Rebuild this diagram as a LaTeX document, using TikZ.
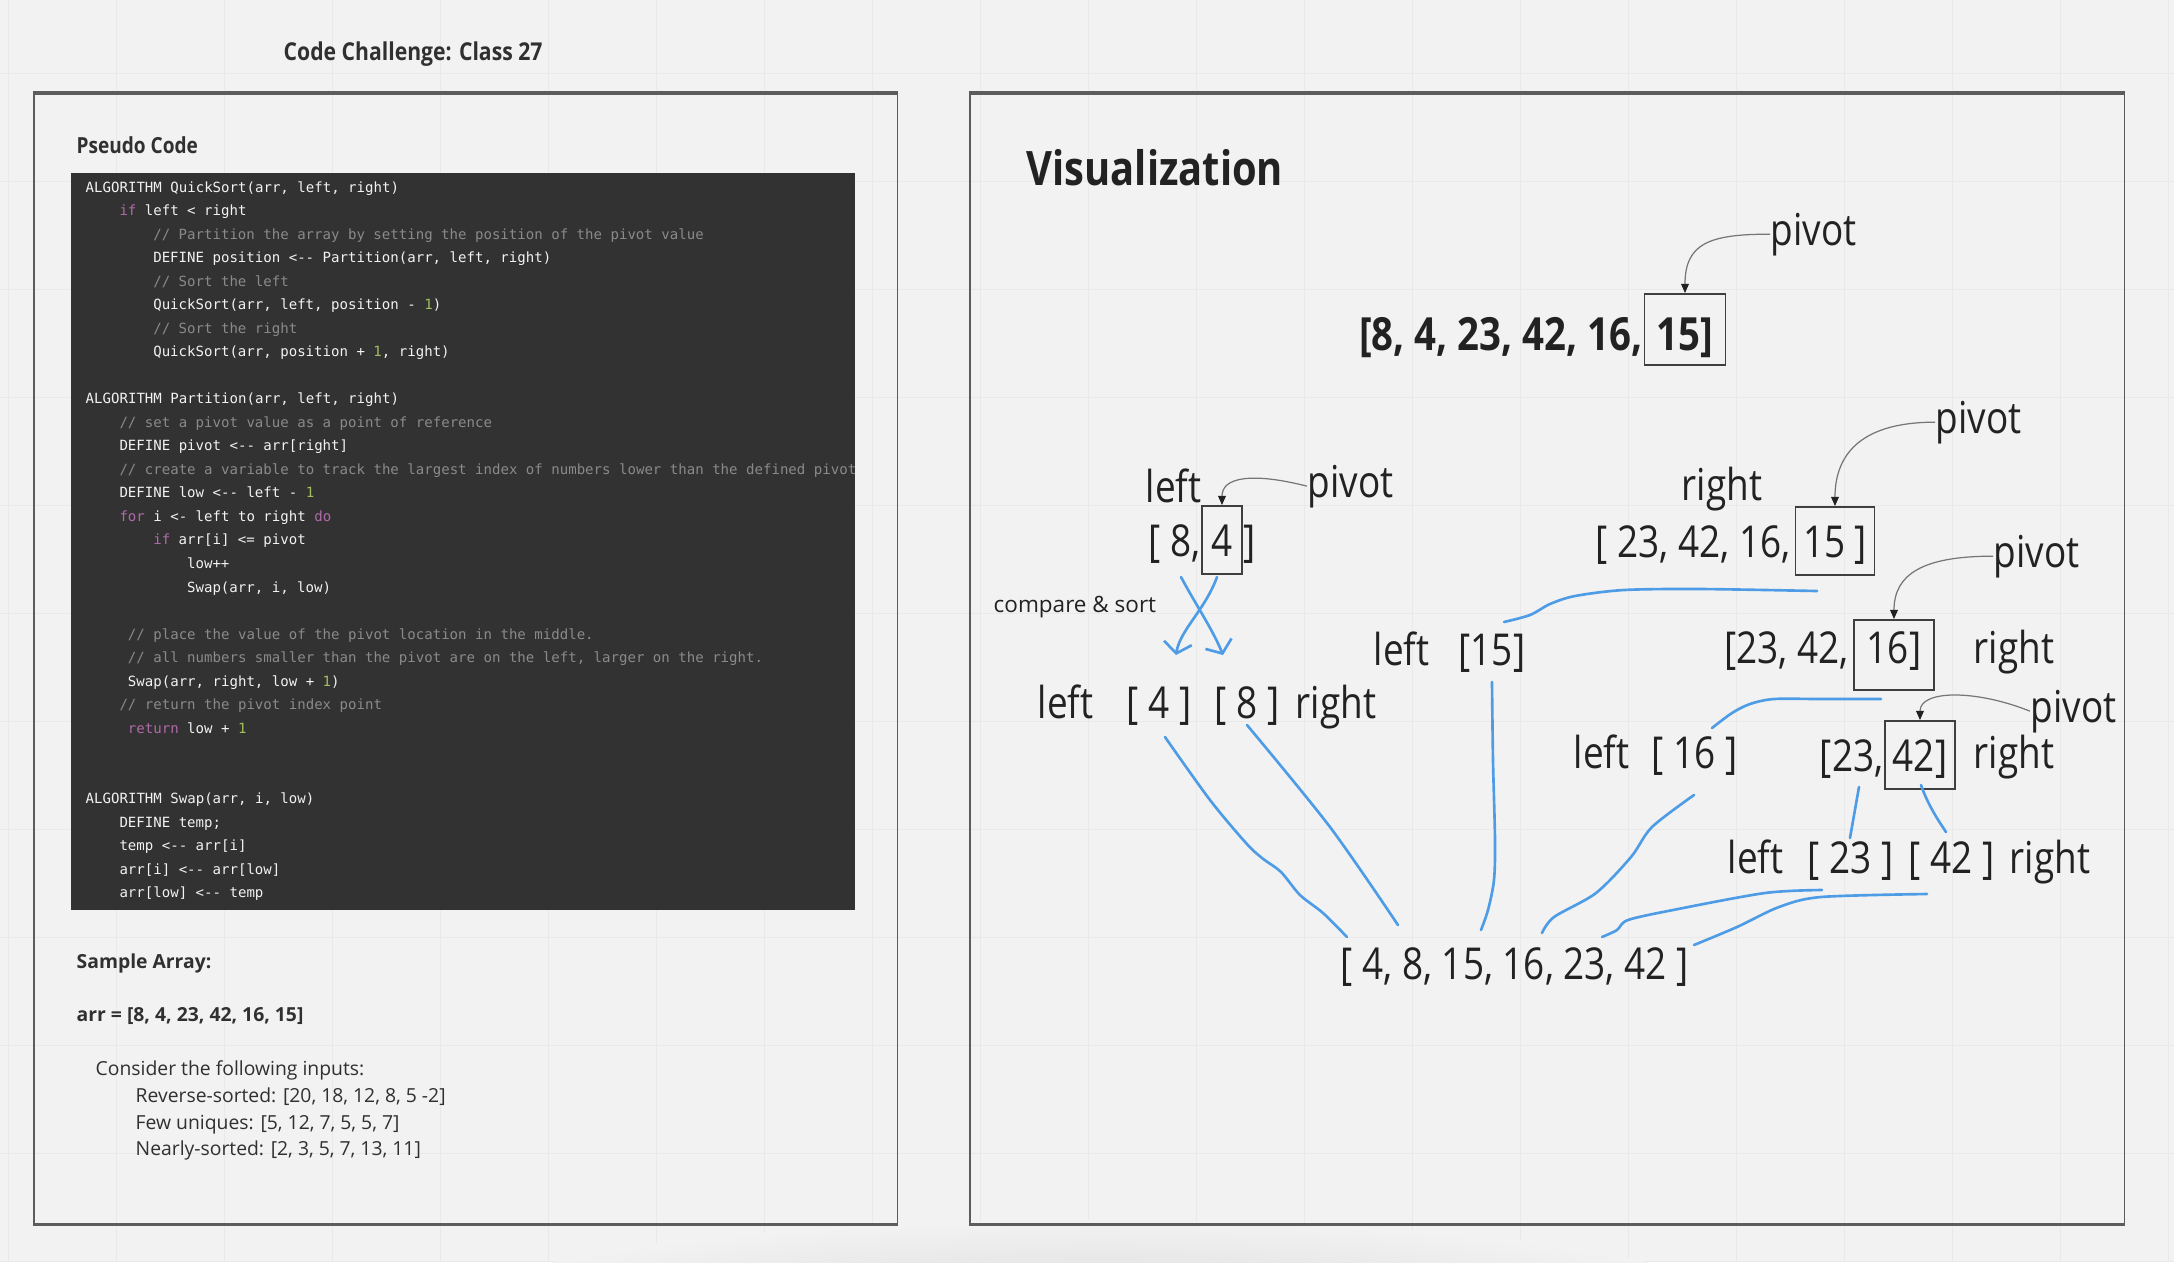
\documentclass[tikz,border=0pt]{standalone}
\usepackage{fontspec}
\setmainfont{Open Sans}
\newfontfamily\narrowfont[FakeStretch=0.84]{Open Sans}
\newfontfamily\headfont[FakeStretch=0.86]{Open Sans}
\newfontfamily\codefont[Ligatures=TeXOff]{DejaVu Sans Mono}
\usetikzlibrary{arrows.meta,positioning}

\definecolor{bgc}{HTML}{F2F2F2}
\definecolor{gridc}{HTML}{E9E9E9}
\definecolor{framec}{HTML}{5C5C5C}
\definecolor{codebg}{HTML}{323232}
\definecolor{codefg}{HTML}{F2F2F2}
\definecolor{codecm}{HTML}{8A8A8A}
\definecolor{codekw}{HTML}{B06AA8}
\definecolor{codenum}{HTML}{A3BE5E}
\definecolor{leftink}{HTML}{303030}
\definecolor{vink}{HTML}{222222}
\definecolor{boxc}{HTML}{3F3F3F}
\definecolor{leadc}{HTML}{767676}
\definecolor{pencil}{HTML}{4E9BE6}

\newcommand{\ckw}[1]{\textcolor{codekw}{#1}}
\newcommand{\ccm}[1]{\textcolor{codecm}{#1}}
\newcommand{\cnum}[1]{\textcolor{codenum}{#1}}

\tikzset{
  panel/.style={draw=framec, line width=0.45pt, anchor=north west, inner sep=0pt},
  codebox/.style={fill=codebg, anchor=north west, inner sep=0pt},
  codeline/.style={anchor=base west, inner sep=0pt, text=codefg, font=\codefont\fontsize{4pt}{5pt}\selectfont},
  ltext/.style={anchor=base west, inner sep=0pt, text=leftink, font=\fontsize{5.5pt}{6.5pt}\selectfont},
  lbold/.style={ltext, font=\bfseries\fontsize{5.5pt}{6.5pt}\selectfont},
  lhead/.style={ltext, font=\headfont\bfseries\fontsize{6.3pt}{7.5pt}\selectfont},
  ltitle/.style={ltext, font=\headfont\bfseries\fontsize{7pt}{8pt}\selectfont},
  vtext/.style={inner sep=0pt, text=vink, font=\narrowfont\fontsize{12.5pt}{15pt}\selectfont},
  vbold/.style={vtext, font=\narrowfont\bfseries\fontsize{13pt}{15pt}\selectfont},
  vsmall/.style={vtext, font=\fontsize{6.4pt}{8pt}\selectfont},
  pbox/.style={draw=boxc, line width=0.55pt, inner sep=0pt, anchor=base, text height=0.5cm, text depth=0.18cm},
  lead/.style={draw=leadc, line width=0.35pt, -{Triangle[length=2.6pt,width=2.2pt,color=vink]}},
  pen/.style={draw=pencil, line width=0.75pt, line cap=round, line join=round},
  gridline/.style={draw=gridc, line width=0.25pt}
}

\begin{document}
\begin{tikzpicture}[x=0.01cm,y=-0.01cm]
\useasboundingbox (0,0) rectangle (2174,1262);
\fill[bgc] (0,0) rectangle (2174,1262);
\foreach \gx in {8,116,...,2174} \draw[gridline] (\gx,0) -- (\gx,1262);
\foreach \gy in {73,181,...,1262} \draw[gridline] (0,\gy) -- (2174,\gy);
\shade[inner color=black!13, outer color=bgc] (1100,1300) ellipse [x radius=620, y radius=80];

\node[ltitle] (title) at (283,60) {Code Challenge: Class 27};
\node[panel, minimum width=8.63cm, minimum height=11.29cm] (pseudo) at (33,93) {};
\node[panel, minimum width=11.54cm, minimum height=11.29cm] (viz) at (969,93) {};
\draw[framec, line width=0.9pt] (pseudo.north west) -- (pseudo.north east) (pseudo.south west) -- (pseudo.south east);
\draw[framec, line width=0.9pt] (viz.north west) -- (viz.north east) (viz.south west) -- (viz.south east);

\node[lhead] (pshead) at (76,153) {Pseudo Code};
\node[codebox, minimum width=7.84cm, minimum height=7.37cm] (code) at (70,172) {};
\begin{scope}
\clip (code.north west) rectangle (code.south east);
\foreach \k/\ind/\src in {
  0/0/{ALGORITHM QuickSort(arr, left, right)},
  1/4/{\ckw{if} left < right},
  2/8/{\ccm{// Partition the array by setting the position of the pivot value}},
  3/8/{DEFINE position <-- Partition(arr, left, right)},
  4/8/{\ccm{// Sort the left}},
  5/8/{QuickSort(arr, left, position - \cnum{1})},
  6/8/{\ccm{// Sort the right}},
  7/8/{QuickSort(arr, position + \cnum{1}, right)},
  9/0/{ALGORITHM Partition(arr, left, right)},
  10/4/{\ccm{// set a pivot value as a point of reference}},
  11/4/{DEFINE pivot <-- arr[right]},
  12/4/{\ccm{// create a variable to track the largest index of numbers lower than the defined pivot}},
  13/4/{DEFINE low <-- left - \cnum{1}},
  14/4/{\ckw{for} i <- left to right \ckw{do}},
  15/8/{\ckw{if} arr[i] <= pivot},
  16/12/{low++},
  17/12/{Swap(arr, i, low)},
  19/5/{\ccm{// place the value of the pivot location in the middle.}},
  20/5/{\ccm{// all numbers smaller than the pivot are on the left, larger on the right.}},
  21/5/{Swap(arr, right, low + \cnum{1})},
  22/4/{\ccm{// return the pivot index point}},
  23/5/{\ckw{return} low + \cnum{1}},
  26/0/{ALGORITHM Swap(arr, i, low)},
  27/4/{DEFINE temp;},
  28/4/{temp <-- arr[i]},
  29/4/{arr[i] <-- arr[low]},
  30/4/{arr[low] <-- temp}}
  \node[codeline] (c\k) at (85+8.45*\ind,192+23.53*\k) {\src};
\end{scope}

\node[lbold] (sample) at (76,968) {Sample Array:};
\node[lbold] (arr) at (76,1021) {arr = [8, 4, 23, 42, 16, 15]};
\node[ltext] (inputs) at (95,1075) {Consider the following inputs:};
\node[ltext] (rev) at (135,1102) {Reverse-sorted: [20, 18, 12, 8, 5 -2]};
\node[ltext] (few) at (135,1129) {Few uniques: [5, 12, 7, 5, 5, 7]};
\node[ltext] (near) at (135,1155) {Nearly-sorted: [2, 3, 5, 7, 13, 11]};

\node[vbold, anchor=base west, font=\narrowfont\bfseries\fontsize{13.5pt}{15pt}\selectfont] (viztitle) at (1026,185) {Visualization};
\node[vbold, pbox, text height=0.56cm, text depth=0.15cm, minimum width=0.81cm] (b0) at (1685,350) {15]};
\node[vbold, base left=0pt of b0] (a0) {[8, 4, 23, 42, 16,};
\node[vtext, anchor=base west] (p0) at (1770,245) {pivot};
\draw[lead] (p0.west) .. controls +(-60,0) and +(0,-50) .. (b0.north);

\node[vtext, anchor=base west] (lft1) at (1145,502) {left};
\node[vtext, pbox, minimum width=0.40cm] (b4) at (1222,556) {4};
\node[vtext, base left=0pt of b4] (a4) {[ 8,};
\node[vtext, base right=0pt of b4] (a4r) {]};
\node[vtext, anchor=base west] (p4) at (1307,497) {pivot};
\draw[lead] (p4.west) .. controls +(-55,-14) and +(0,-28) .. (b4.north);
\node[vsmall, anchor=base west] (cmp) at (993,612) {compare \& sort};
\coordinate (x1a) at (1181,577); \coordinate (x1b) at (1223,655);
\coordinate (x2a) at (1217,577); \coordinate (x2b) at (1176,655);
\draw[pen, -{Straight Barb[length=3pt,width=8pt]}] (x1a) .. controls (1196,605) and (1213,630) .. (x1b);
\draw[pen, -{Straight Barb[length=3pt,width=8pt]}] (x2a) .. controls (1205,610) and (1180,630) .. (x2b);

\node[vtext, anchor=base west] (lft2) at (1037,718) {left};
\node[vtext, anchor=base west] (s4) at (1126,718) {[ 4 ]};
\node[vtext, anchor=base west] (s8) at (1214,718) {[ 8 ]};
\node[vtext, anchor=base west] (rgt2) at (1295,718) {right};
\node[vtext, anchor=base west] (lft3) at (1373,665) {left};
\node[vtext, anchor=base west] (s15) at (1458,665) {[15]};

\node[vtext, anchor=base west] (rgt1) at (1681,500) {right};
\node[vtext, pbox, minimum width=0.79cm] (b15) at (1835,557) {15 ]};
\node[vtext, base left=1pt of b15] (a15) {[ 23, 42, 16,};
\node[vtext, anchor=base west] (p15) at (1935,433) {pivot};
\draw[lead] (p15.west) .. controls +(-70,0) and +(0,-55) .. (b15.north);

\node[vtext, pbox, minimum width=0.80cm, text height=0.43cm, text depth=0.27cm] (b16) at (1894,663) {16]};
\node[vtext, base left=1pt of b16] (a16) {[23, 42,};
\node[vtext, anchor=base west] (rgt4) at (1973,663) {right};
\node[vtext, anchor=base west] (p16) at (1993,567) {pivot};
\draw[lead] (p16.west) .. controls +(-70,0) and +(0,-45) .. (b16.north);

\node[vtext, pbox, minimum width=0.70cm] (b42) at (1920,771) {42]};
\node[vtext, base left=0pt of b42] (a42) {[23,};
\node[vtext, anchor=base west] (rgt5) at (1973,768) {right};
\node[vtext, anchor=base west] (lft5) at (1573,768) {left};
\node[vtext, anchor=base west] (s16) at (1651,768) {[ 16 ]};
\node[vtext, anchor=base west] (p42) at (2030,722) {pivot};
\draw[lead] (p42.west) .. controls +(-55,-22) and +(0,-30) .. (b42.north);

\node[vtext, anchor=base west] (lft6) at (1727,873) {left};
\node[vtext, anchor=base west] (s23) at (1807,873) {[ 23 ]};
\node[vtext, anchor=base west] (s42) at (1908,873) {[ 42 ]};
\node[vtext, anchor=base west] (rgt6) at (2009,873) {right};
\node[vtext, anchor=base west] (sorted) at (1340,979) {[ 4, 8, 15, 16, 23, 42 ]};

\coordinate (u1) at (1817,591); \coordinate (v1) at (1504,622);
\coordinate (u2) at (1492,682); \coordinate (v2) at (1481,930);
\coordinate (u3) at (1881,699); \coordinate (v3) at (1712,728);
\coordinate (u4) at (1694,795); \coordinate (v4) at (1542,933);
\coordinate (u5) at (1859,787); \coordinate (v5) at (1850,838);
\coordinate (u6) at (1921,785); \coordinate (v6) at (1946,832);
\coordinate (u7) at (1822,890); \coordinate (v7) at (1602,937);
\coordinate (u8) at (1927,894); \coordinate (v8) at (1694,945);
\coordinate (u9) at (1165,737); \coordinate (v9) at (1347,937);
\coordinate (u10) at (1247,725); \coordinate (v10) at (1398,925);
\draw[pen] plot[smooth] coordinates {(u1) (1700,589) (1624,590) (1575,596) (1550,604) (1530,615) (v1)};
\draw[pen] plot[smooth] coordinates {(u2) (1493,760) (1495,840) (1494,880) (1488,910) (v2)};
\draw[pen] plot[smooth] coordinates {(u3) (1820,699) (1774,699) (1750,704) (1732,713) (v3)};
\draw[pen] plot[smooth] coordinates {(u4) (1652,827) (1631,857) (1596,893) (1554,917) (v4)};
\draw[pen] (u5) -- (v5);
\draw[pen] (u6) .. controls (1928,805) and (1938,820) .. (v6);
\draw[pen] plot[smooth] coordinates {(u7) (1765,893) (1673,910) (1628,920) (1617,930) (v7)};
\draw[pen] plot[smooth] coordinates {(u8) (1821,897) (1779,907) (1737,927) (v8)};
\draw[pen] plot[smooth] coordinates {(u9) (1210,800) (1246,843) (1262,858) (1281,872) (1300,895) (1323,913) (v9)};
\draw[pen] plot[smooth] coordinates {(u10) (1330,827) (v10)};
\end{tikzpicture}
\end{document}
